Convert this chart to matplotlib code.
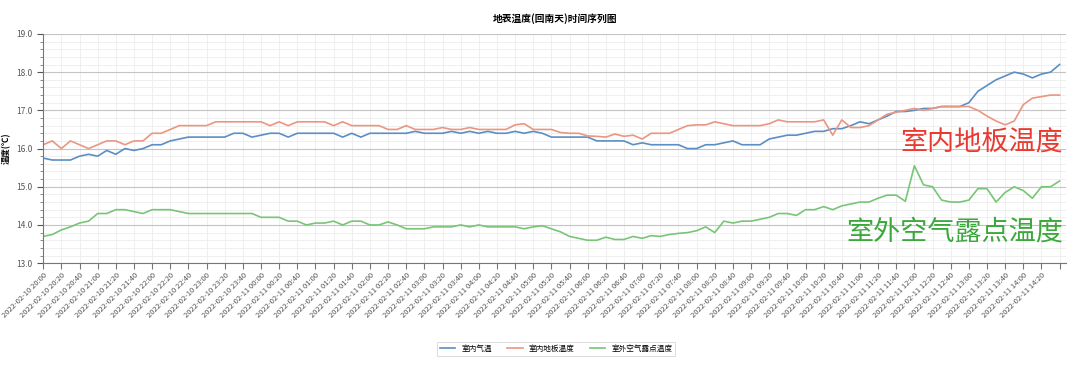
import matplotlib
matplotlib.use("Agg")
import matplotlib.pyplot as plt
from matplotlib.ticker import MultipleLocator, FormatStrFormatter
import pandas as pd

plt.rcParams['font.family'] = ['Noto Sans CJK SC', 'DejaVu Sans']

# readings every 10 minutes, 2022-02-10 20:00 .. 2022-02-11 14:40
times = pd.date_range("2022-02-10 20:00", "2022-02-11 14:40", freq="10min")

indoor_air = [15.75, 15.7, 15.7, 15.7, 15.8, 15.85, 15.8, 15.95, 15.85, 16.0,
              15.95, 16.0, 16.1, 16.1, 16.2, 16.25, 16.3, 16.3, 16.3, 16.3,
              16.3, 16.4, 16.4, 16.3, 16.35, 16.4, 16.4, 16.3, 16.4, 16.4,
              16.4, 16.4, 16.4, 16.3, 16.4, 16.3, 16.4,
              16.4, 16.4, 16.4, 16.4, 16.45, 16.4, 16.4, 16.4, 16.45, 16.4,
              16.45, 16.4, 16.45, 16.4, 16.4, 16.45, 16.4, 16.45, 16.4, 16.3,
              16.3, 16.3, 16.3, 16.3, 16.2, 16.2, 16.2, 16.2, 16.1, 16.15,
              16.1, 16.1, 16.1, 16.1, 16.0, 16.0, 16.1, 16.1,
              16.15, 16.2, 16.1, 16.1, 16.1, 16.25, 16.3, 16.35, 16.35, 16.4,
              16.45, 16.45, 16.52, 16.52, 16.6, 16.7, 16.65, 16.75, 16.85, 16.97,
              16.97, 17.0, 17.05, 17.05, 17.1, 17.1, 17.1, 17.2, 17.5, 17.65,
              17.8, 17.9, 18.0, 17.95, 17.85, 17.95, 18.0, 18.2]

floor_temp = [16.1, 16.2, 16.0, 16.2, 16.1, 16.0, 16.1, 16.2, 16.2, 16.1,
              16.2, 16.2, 16.4, 16.4, 16.5, 16.6, 16.6, 16.6, 16.6, 16.7,
              16.7, 16.7, 16.7, 16.7, 16.7, 16.6, 16.7, 16.6, 16.7, 16.7,
              16.7, 16.7, 16.6, 16.7, 16.6, 16.6, 16.6,
              16.6, 16.5, 16.5, 16.6, 16.5, 16.5, 16.5, 16.55, 16.5, 16.5,
              16.55, 16.5, 16.5, 16.5, 16.5, 16.62, 16.65, 16.5, 16.5, 16.5,
              16.42, 16.4, 16.4, 16.33, 16.32, 16.3, 16.38, 16.32, 16.35, 16.25,
              16.4, 16.4, 16.4, 16.5, 16.6, 16.62, 16.62, 16.7,
              16.65, 16.6, 16.6, 16.6, 16.6, 16.65, 16.75, 16.7, 16.7, 16.7,
              16.7, 16.75, 16.35, 16.75, 16.55, 16.55, 16.6, 16.75, 16.9, 16.95,
              17.0, 17.05, 17.0, 17.05, 17.1, 17.1, 17.1, 17.1, 17.0, 16.85,
              16.72, 16.62, 16.72, 17.15, 17.32, 17.36, 17.4, 17.4]

dew_point = [13.7, 13.75, 13.87, 13.95, 14.05, 14.1, 14.3, 14.3, 14.4, 14.4,
             14.35, 14.3, 14.4, 14.4, 14.4, 14.35, 14.3, 14.3, 14.3, 14.3,
             14.3, 14.3, 14.3, 14.3, 14.2, 14.2, 14.2, 14.1, 14.1, 14.0,
             14.05, 14.05, 14.1, 14.0, 14.1, 14.1, 14.0,
             14.0, 14.08, 14.0, 13.9, 13.9, 13.9, 13.95, 13.95, 13.95, 14.0,
             13.95, 14.0, 13.95, 13.95, 13.95, 13.95, 13.9, 13.95, 13.98, 13.9,
             13.82, 13.7, 13.65, 13.6, 13.6, 13.68, 13.62, 13.62, 13.7, 13.65,
             13.72, 13.7, 13.75, 13.78, 13.8, 13.85, 13.95, 13.8,
             14.1, 14.05, 14.1, 14.1, 14.15, 14.2, 14.3, 14.3, 14.25, 14.4,
             14.4, 14.48, 14.4, 14.5, 14.55, 14.6, 14.6, 14.7, 14.78, 14.78,
             14.62, 15.55, 15.05, 15.0, 14.65, 14.6, 14.6, 14.65, 14.95, 14.95,
             14.6, 14.85, 15.0, 14.9, 14.7, 15.0, 15.0, 15.15]

series_names = ["室内气温", "室内地板温度", "室外空气露点温度"]
colors = ["#5b8ec4", "#ea9680", "#78c576"]

fig, ax = plt.subplots(figsize=(10.8, 3.65), dpi=100)
fig.subplots_adjust(left=0.04, right=0.987, top=0.907, bottom=0.279)

for vals, name, c in zip([indoor_air, floor_temp, dew_point], series_names, colors):
    ax.plot(times, vals, color=c, lw=1.2, label=name)

ax.set_ylim(13, 19)
ax.set_xlim(pd.Timestamp("2022-02-10 20:00"), pd.Timestamp("2022-02-11 14:47"))
ax.yaxis.set_major_locator(MultipleLocator(1))
ax.yaxis.set_minor_locator(MultipleLocator(0.2))
ax.yaxis.set_major_formatter(FormatStrFormatter('%.1f'))

ticks = pd.date_range("2022-02-10 20:00", "2022-02-11 14:40", freq="20min")
ax.set_xticks(ticks)
labels = [t.strftime("%Y-%m-%d %H:%M") for t in ticks]
labels[-1] = ""
ax.set_xticklabels(labels, rotation=45, ha="right", rotation_mode="anchor",
                   fontsize=5.5, color="#555555")
ax.tick_params(axis="y", labelsize=6, colors="#555555", length=4)
ax.tick_params(axis="y", which="minor", length=2, color="#777777")
ax.tick_params(axis="x", length=4, color="#777777", pad=2)

ax.grid(True, which="major", axis="y", color="#c4c4c4", lw=0.8)
ax.grid(True, which="minor", axis="y", color="#ececec", lw=0.6)
ax.grid(True, which="major", axis="x", color="#ececec", lw=0.6)
ax.set_axisbelow(True)
for s in ["top", "right"]:
    ax.spines[s].set_visible(False)
for s in ["left", "bottom"]:
    ax.spines[s].set_color("#777777")
    ax.spines[s].set_linewidth(0.8)

ax.set_title("地表温度(回南天)时间序列图", fontsize=7, fontweight="bold", pad=9)
ax.set_ylabel("温度(℃)", fontsize=6, fontweight="bold")
ax.yaxis.set_label_coords(-0.031, 0.5)

ax.text(0.997, 0.523, "室内地板温度", transform=ax.transAxes, ha="right", va="center",
        fontsize=19.5, color="#e83a30")
ax.text(0.997, 0.135, "室外空气露点温度", transform=ax.transAxes, ha="right", va="center",
        fontsize=19.5, color="#3aa83a")

leg = fig.legend(loc="center", bbox_to_anchor=(0.515, 0.045), ncol=3, fontsize=5.5,
                 frameon=True, fancybox=False, handlelength=2.0, columnspacing=2.0,
                 edgecolor="#cccccc")
leg.get_frame().set_linewidth(0.6)

fig.savefig("out.png", dpi=100)
plt.close(fig)
